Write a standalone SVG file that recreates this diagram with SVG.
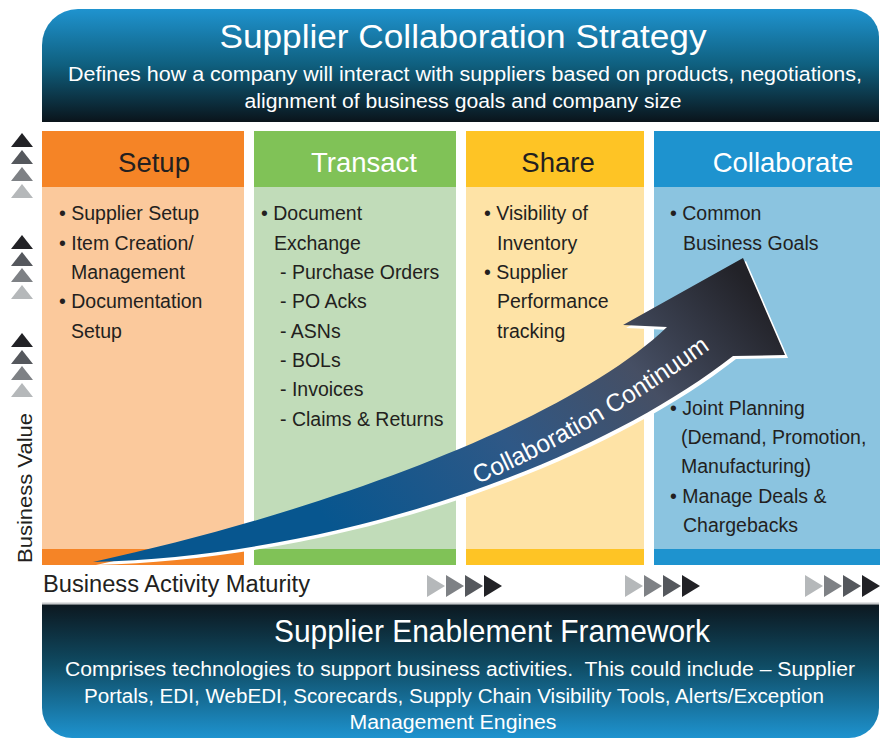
<svg xmlns="http://www.w3.org/2000/svg" width="880" height="738" viewBox="0 0 880 738">
<defs>
<linearGradient id="gTop" x1="0" y1="0" x2="0" y2="1">
<stop offset="0" stop-color="#1f93cf"/>
<stop offset="0.5" stop-color="#0f5f7e"/>
<stop offset="1" stop-color="#0a141b"/>
</linearGradient>
<linearGradient id="gBot" x1="0" y1="0" x2="0" y2="1">
<stop offset="0" stop-color="#0c1820"/>
<stop offset="0.45" stop-color="#0f4b63"/>
<stop offset="1" stop-color="#1e93cf"/>
</linearGradient>
<linearGradient id="gArrow" gradientUnits="userSpaceOnUse" x1="360" y1="560" x2="720" y2="250">
<stop offset="0" stop-color="#07568f"/>
<stop offset="0.4" stop-color="#2f5886"/>
<stop offset="0.7" stop-color="#464f64"/>
<stop offset="1" stop-color="#222228"/>
</linearGradient>
<path id="tp" d="M470,487 Q585,440 720,342"/>
</defs>
<style>
text{font-family:"Liberation Sans",Arial,sans-serif;}
.bt{fill:#ffffff;}
.hd{font-size:27.5px;text-anchor:middle;}
.dk{fill:#231f20;}
.wh{fill:#ffffff;}
.body{font-size:19.5px;fill:#231f20;}
.t1{fill:#222226;}.t2{fill:#55585d;}.t3{fill:#7e8185;}.t4{fill:#b5b8ba;}
</style>

<g id="top-banner">
<path d="M42,122 V45 A36,36 0 0 1 78,9 H851 A28,28 0 0 1 879,37 V122 Z" fill="url(#gTop)"/>
<text class="bt" x="463" y="48" font-size="34" text-anchor="middle" textLength="487" lengthAdjust="spacingAndGlyphs">Supplier Collaboration Strategy</text>
<text class="bt" x="465" y="81" font-size="20" text-anchor="middle" textLength="794" lengthAdjust="spacingAndGlyphs">Defines how a company will interact with suppliers based on products, negotiations,</text>
<text class="bt" x="463" y="108" font-size="20" text-anchor="middle" textLength="437" lengthAdjust="spacingAndGlyphs">alignment of business goals and company size</text>
</g>

<g id="setup">
<rect x="42" y="131" width="202" height="56" fill="#f58426"/>
<rect x="42" y="187" width="202" height="362" fill="#fbc99c"/>
<rect x="42" y="549" width="202" height="16" fill="#f58426"/>
<text class="hd dk" x="154" y="172">Setup</text>
<text class="body"><tspan x="59" y="220">• Supplier Setup</tspan><tspan x="59" y="250">• Item Creation/</tspan><tspan x="71" y="279">Management</tspan><tspan x="59" y="308">• Documentation</tspan><tspan x="71" y="338">Setup</tspan></text>
</g>

<g id="transact">
<rect x="254" y="131" width="202" height="56" fill="#80c257"/>
<rect x="254" y="187" width="202" height="362" fill="#c1dcb9"/>
<rect x="254" y="549" width="202" height="16" fill="#80c257"/>
<text class="hd wh" x="364" y="172">Transact</text>
<text class="body"><tspan x="261" y="220">• Document</tspan><tspan x="274" y="250">Exchange</tspan><tspan x="280" y="279">- Purchase Orders</tspan><tspan x="280" y="308">- PO Acks</tspan><tspan x="280" y="338">- ASNs</tspan><tspan x="280" y="367">- BOLs</tspan><tspan x="280" y="396">- Invoices</tspan><tspan x="280" y="426">- Claims &amp; Returns</tspan></text>
</g>

<g id="share">
<rect x="466" y="131" width="178" height="56" fill="#fec425"/>
<rect x="466" y="187" width="178" height="362" fill="#fee3a6"/>
<rect x="466" y="549" width="178" height="16" fill="#fec425"/>
<text class="hd dk" x="558" y="172">Share</text>
<text class="body"><tspan x="484" y="220">• Visibility of</tspan><tspan x="497" y="250">Inventory</tspan><tspan x="484" y="279">• Supplier</tspan><tspan x="497" y="308">Performance</tspan><tspan x="497" y="338">tracking</tspan></text>
</g>

<g id="collaborate">
<rect x="654" y="131" width="226" height="56" fill="#1e93cf"/>
<rect x="654" y="187" width="226" height="362" fill="#8bc4e0"/>
<rect x="654" y="549" width="226" height="16" fill="#1e93cf"/>
<text class="hd wh" x="783" y="172">Collaborate</text>
<text class="body"><tspan x="670" y="220">• Common</tspan><tspan x="683" y="250">Business Goals</tspan><tspan x="670" y="415">• Joint Planning</tspan><tspan x="681" y="444">(Demand, Promotion,</tspan><tspan x="681" y="473">Manufacturing)</tspan><tspan x="670" y="503">• Manage Deals &amp;</tspan><tspan x="683" y="532">Chargebacks</tspan></text>
</g>

<g id="connectors">
<path d="M93,562 C350,555 600,460 733,356 L785,355 L743,258 L623,325 L667,327 C570,420 330,510 93,562 Z" fill="#ffffff" transform="translate(3,3)"/>
<path d="M93,562 C350,555 600,460 733,356 L785,355 L743,258 L623,325 L667,327 C570,420 330,510 93,562 Z" fill="url(#gArrow)"/>
<text class="wh" font-size="25"><textPath href="#tp" startOffset="8" textLength="270" lengthAdjust="spacingAndGlyphs">Collaboration Continuum</textPath></text>
</g>

<g id="value-axis">
<polygon class="t1" points="11,147 22,133 33,147"/>
<polygon class="t2" points="11,164 22,150 33,164"/>
<polygon class="t3" points="11,181 22,167 33,181"/>
<polygon class="t4" points="11,198 22,184 33,198"/>
<polygon class="t1" points="11,249 22,235 33,249"/>
<polygon class="t2" points="11,266 22,252 33,266"/>
<polygon class="t3" points="11,282 22,268 33,282"/>
<polygon class="t4" points="11,299 22,285 33,299"/>
<polygon class="t1" points="11,347 22,333 33,347"/>
<polygon class="t2" points="11,364 22,350 33,364"/>
<polygon class="t3" points="11,380 22,366 33,380"/>
<polygon class="t4" points="11,397 22,383 33,397"/>
<text class="dk" transform="translate(32,488) rotate(-90)" font-size="21" text-anchor="middle" textLength="150" lengthAdjust="spacingAndGlyphs">Business Value</text>
</g>

<g id="maturity-axis">
<text class="dk" x="43" y="592" font-size="23" textLength="267" lengthAdjust="spacingAndGlyphs">Business Activity Maturity</text>
<polygon class="t4" points="427,575 445,586 427,597"/>
<polygon class="t3" points="446,575 464,586 446,597"/>
<polygon class="t2" points="465,575 483,586 465,597"/>
<polygon class="t1" points="484,575 502,586 484,597"/>
<polygon class="t4" points="625,575 643,586 625,597"/>
<polygon class="t3" points="644,575 662,586 644,597"/>
<polygon class="t2" points="663,575 681,586 663,597"/>
<polygon class="t1" points="682,575 700,586 682,597"/>
<polygon class="t4" points="805,575 823,586 805,597"/>
<polygon class="t3" points="824,575 842,586 824,597"/>
<polygon class="t2" points="843,575 861,586 843,597"/>
<polygon class="t1" points="862,575 880,586 862,597"/>
</g>

<g id="bottom-banner">
<rect x="42" y="602.5" width="837" height="2" fill="#c8cacc"/>
<path d="M42,604.5 H879 V708 A30,30 0 0 1 849,738 H72 A30,30 0 0 1 42,708 Z" fill="url(#gBot)"/>
<text class="bt" x="492" y="642" font-size="32" text-anchor="middle" textLength="436" lengthAdjust="spacingAndGlyphs">Supplier Enablement Framework</text>
<text class="bt" x="460" y="676" font-size="20" text-anchor="middle" textLength="790" lengthAdjust="spacingAndGlyphs">Comprises technologies to support business activities.&#160; This could include – Supplier</text>
<text class="bt" x="454" y="703" font-size="20" text-anchor="middle" textLength="740" lengthAdjust="spacingAndGlyphs">Portals, EDI, WebEDI, Scorecards, Supply Chain Visibility Tools, Alerts/Exception</text>
<text class="bt" x="453" y="729" font-size="20" text-anchor="middle" textLength="207" lengthAdjust="spacingAndGlyphs">Management Engines</text>
</g>
</svg>
